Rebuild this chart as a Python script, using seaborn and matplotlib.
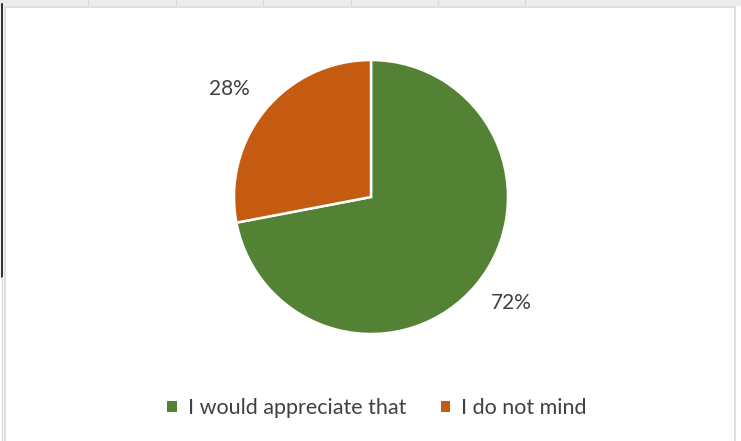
import matplotlib
matplotlib.use("Agg")
import matplotlib.pyplot as plt
from matplotlib.lines import Line2D
from matplotlib.patches import Rectangle
import seaborn as sns

# Survey answers and their shares (percent)
answers = ["I would appreciate that", "I do not mind"]
shares = [72, 28]
colors = ["#548235", "#C55A11"]

sns.set_theme(style="white")
plt.rcParams["font.family"] = ["Lato", "DejaVu Sans"]

W, H = 741, 441
fig = plt.figure(figsize=(W / 100, H / 100), dpi=100)
fig.patch.set_facecolor("white")

# Spreadsheet grid around the chart area (kept behind the plot)
grid_c = "#d9d9d9"
fig.add_artist(Rectangle((0, 1 - 6 / H), 1, 6 / H, transform=fig.transFigure,
                         facecolor="#ececec", edgecolor="none", zorder=-10))
for gx in [88, 176, 263, 351, 438, 525]:
    fig.add_artist(Line2D([gx / W, gx / W], [1 - 5 / H, 1], transform=fig.transFigure,
                          color=grid_c, lw=1, zorder=-9))
fig.add_artist(Line2D([1.5 / W, 1.5 / W], [1 - 277 / H, 1 - 4 / H], transform=fig.transFigure,
                      color="#303030", lw=1.5, zorder=-9))
fig.add_artist(Line2D([1.5 / W, 1.5 / W], [0, 1 - 277 / H], transform=fig.transFigure,
                      color=grid_c, lw=1, zorder=-9))
fig.add_artist(Rectangle((4.5 / W, -0.01), (735 - 4.5) / W, 1 - 6.5 / H + 0.01,
                         transform=fig.transFigure, facecolor="white",
                         edgecolor=grid_c, lw=1.2, zorder=-8))

# Pie plot area
cx, cy, r = 371, 197, 137
ax = fig.add_axes([(cx - r) / W, (H - cy - r) / H, 2 * r / W, 2 * r / H])
ax.patch.set_alpha(0)
wedges, texts, autotexts = ax.pie(
    shares, colors=colors, startangle=90, counterclock=False,
    autopct="%d%%", pctdistance=1.27, radius=1,
    wedgeprops=dict(edgecolor="white", linewidth=1.8),
    textprops=dict(color="#404040", fontsize=15),
)
# Data labels sit just outside the rim, as in the spreadsheet layout
label_pos = [(1.022, -0.774), (-1.036, 0.788)]
for t, p in zip(autotexts, label_pos):
    t.set_position(p)
ax.set_xlim(-1, 1)
ax.set_ylim(-1, 1)
ax.set_aspect("equal")
ax.axis("off")

handles = [Rectangle((0, 0), 1, 1, facecolor=c, edgecolor="none") for c in colors]
fig.legend(handles, answers, loc="center", bbox_to_anchor=(377 / W, 1 - 408 / H),
           ncol=2, frameon=False, fontsize=15.5, labelcolor="#404040",
           handlelength=0.45, handleheight=0.45, handletextpad=0.5, columnspacing=1.6)

fig.savefig("out.png", dpi=100, facecolor="white")
